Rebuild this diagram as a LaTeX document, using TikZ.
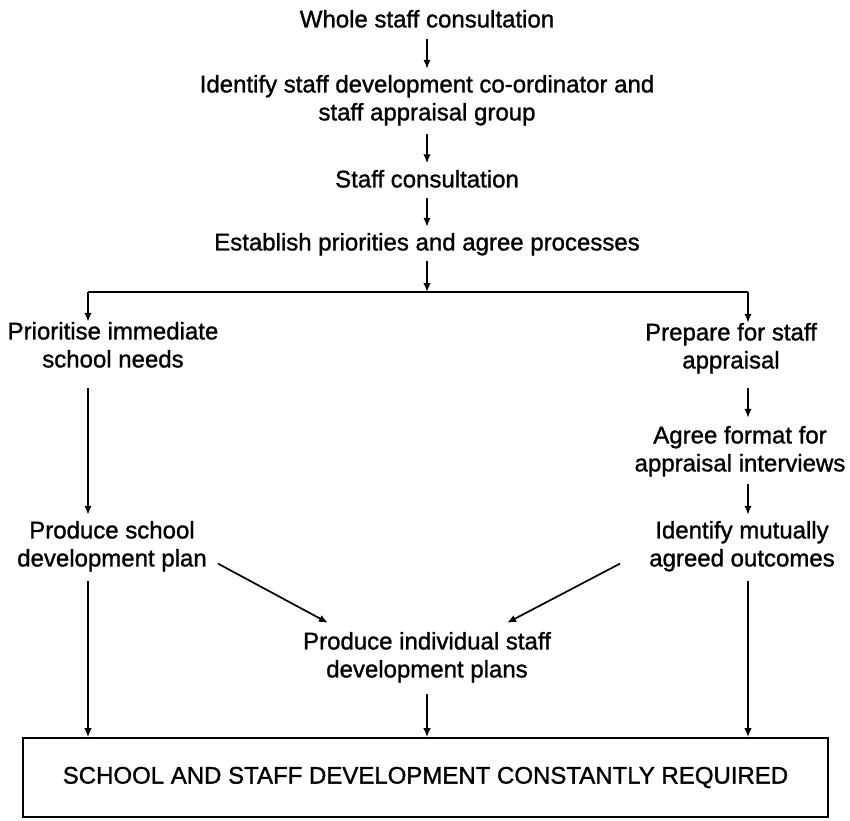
\documentclass[tikz,border=0pt]{standalone}
\usepackage{fontspec}
\setmainfont{Liberation Sans}
\newfontfamily\heavysans{Liberation Sans}[FakeBold=1.2]
\usetikzlibrary{arrows.meta}

\begin{document}
\begin{tikzpicture}[x=1pt,y=-1pt,
  stage/.style={align=center, inner sep=0pt, anchor=north,
    font=\heavysans\fontsize{24}{28}\selectfont,
    execute at begin node=\vphantom{Apy},
    execute at end node=\vphantom{Apy}},
  link/.style={line width=1.7pt},
  flow/.style={link, -{Latex[length=9pt,width=7.5pt]}},
  outcome/.style={draw, line width=1.7pt, inner sep=0pt,
    minimum width=805pt, minimum height=79pt,
    font=\heavysans\fontsize{24}{28}\selectfont}]

\useasboundingbox (0,0) rectangle (850,820);

% column guides
\coordinate (xL) at (88,0);
\coordinate (xR) at (748,0);
\coordinate (xC) at (427,0);

% central chain
\node[stage] (wsc) at (427,9.8) {Whole staff consultation};
\node[stage] (idc) at (427,74.8) {Identify staff development co-ordinator and\\staff appraisal group};
\node[stage] (sc)  at (427,169.8) {Staff consultation};
\node[stage] (est) at (427,232.8) {Establish priorities and agree processes};

% split bar
\coordinate (split) at (427,292);
\coordinate (sL) at (88,292);
\coordinate (sR) at (748,292);

% left branch
\node[stage] (psn) at (113,321.8) {Prioritise immediate\\school needs};
\node[stage] (sdp) at (112,520.8) {Produce school\\development plan};

% right branch
\node[stage] (pfa) at (731,322.8) {Prepare for staff\\appraisal};
\node[stage] (afi) at (740,425.8) {Agree format for\\appraisal interviews};
\node[stage] (mao) at (742,520.8) {Identify mutually\\agreed outcomes};

% merge
\node[stage] (isp) at (427,631.8) {Produce individual staff\\development plans};

% final outcome
\node[outcome] (req) at (425.5,777.5) {\raisebox{-3pt}{SCHOOL AND STAFF DEVELOPMENT CONSTANTLY REQUIRED}};

% connectors: central chain
\draw[flow, shorten <=6pt, shorten >=6pt] (wsc.south) -- (idc.north);
\draw[flow, shorten <=8pt, shorten >=6.5pt] (idc.south) -- (sc.north);
\draw[flow, shorten <=5pt, shorten >=6pt] (sc.south) -- (est.north);
\draw[flow, shorten <=5pt] (est.south) -- (split);
\draw[link] (sL) -- (sR);

% left branch
\draw[flow] (sL) -- (psn.north -| xL);
\draw[flow, shorten <=15pt, shorten >=6pt] (psn.south -| xL) -- (sdp.north -| xL);
\draw[flow, shorten <=9pt] (sdp.south -| xL) -- (req.north -| xL);

% right branch
\draw[flow] (sR) -- (pfa.north -| xR);
\draw[flow, shorten <=14pt, shorten >=8pt] (pfa.south -| xR) -- (afi.north -| xR);
\draw[flow, shorten <=7pt, shorten >=6pt] (afi.south -| xR) -- (mao.north -| xR);
\draw[flow, shorten <=9pt] (mao.south -| xR) -- (req.north -| xR);

% diagonals into the individual plans
\draw[flow] ([xshift=11pt,yshift=8pt]sdp.south east) -- ([xshift=25pt,yshift=9pt]isp.north west);
\draw[flow] ([xshift=-29pt,yshift=8pt]mao.south west) -- ([xshift=-44pt,yshift=9pt]isp.north east);

% centre into outcome
\draw[flow, shorten <=11pt] (isp.south -| xC) -- (req.north -| xC);

\end{tikzpicture}
\end{document}
